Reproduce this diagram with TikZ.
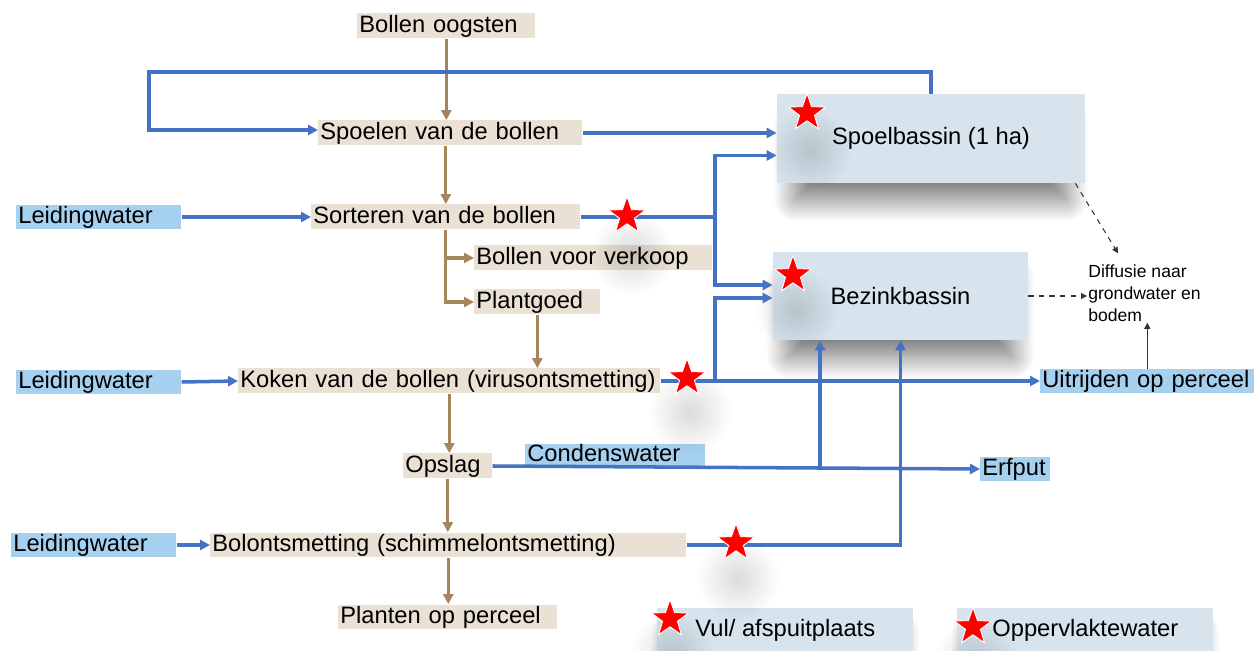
\documentclass[tikz,border=0pt]{standalone}
\usepackage{fontspec}
\setmainfont{Liberation Sans}
\usetikzlibrary{arrows.meta,calc,shapes.geometric,shadows.blur,fadings}
\definecolor{boxtan}{RGB}{234,225,212}
\definecolor{boxblue}{RGB}{166,208,240}
\definecolor{basinfill}{RGB}{215,228,237}
\definecolor{flowblue}{RGB}{68,114,196}
\definecolor{flowbrown}{RGB}{166,133,92}
\tikzfading[name=blobfade, inner color=transparent!86, outer color=transparent!100]

\begin{document}
\begin{tikzpicture}[x=0.02cm, y=-0.02cm,
        proc/.style={fill=boxtan, anchor=west, inner xsep=0.04cm, inner ysep=0pt, minimum height=0.5cm, text height=10pt, text depth=3pt, align=left, text width=#1, font=\fontsize{13.5}{16}\selectfont},
        water/.style={proc=#1, fill=boxblue, minimum height=0.47cm},
        basin/.style={fill=basinfill, inner sep=0pt, font=\fontsize{13.5}{16}\selectfont, blur shadow={shadow xshift=0cm, shadow yshift=-0.5cm, shadow scale=0.88, shadow blur radius=0.5cm, shadow blur steps=30, shadow opacity=55}},
        redstar/.style={star, star points=5, star point ratio=2.5, fill=red, draw=white, line width=0.5pt, minimum size=0.78cm, inner sep=0pt},
        blob/.style={fill=black, path fading=blobfade},
        brline/.style={draw=flowbrown, line width=1.8pt, -{Triangle[length=0.2cm, width=0.2cm]}},
        blline/.style={draw=flowblue, line width=2pt, -{Triangle[length=0.2cm, width=0.2cm]}},
        dashline/.style={draw=black!80, dashed, line width=0.6pt, -{Triangle[length=0.12cm, width=0.12cm]}},
        thinline/.style={draw=black!80, line width=0.6pt, -{Triangle[length=0.12cm, width=0.12cm]}}]
    \useasboundingbox (0,0) rectangle (1255,651);

    \node[basin, minimum width=6.16cm, minimum height=1.78cm] (S) at (931,138.5) {Spoelbassin (1 ha)};
    \node[basin, minimum width=5.10cm, minimum height=1.76cm] (Z) at (900.5,296) {Bezinkbassin};
    \node[basin, minimum width=5.12cm, minimum height=0.9cm, anchor=north west] (V) at (657,608) {Vul/ afspuitplaats};
    \node[basin, minimum width=5.12cm, minimum height=0.9cm, anchor=north west] (W) at (957,608) {Oppervlaktewater};

    \node[proc=3.48cm] (A) at (357,26) {Bollen oogsten};
    \node[proc=5.20cm] (B) at (318,133) {Spoelen van de bollen};
    \node[proc=5.30cm] (C) at (311,217) {Sorteren van de bollen};
    \node[proc=4.68cm] (D) at (474,258) {Bollen voor verkoop};
    \node[proc=2.44cm] (E) at (474,302) {Plantgoed};
    \node[proc=8.36cm] (F) at (238,381) {Koken van de bollen (virusontsmetting)};
    \node[proc=1.70cm] (G) at (403,466) {Opslag};
    \node[proc=9.44cm] (H) at (210,545) {Bolontsmetting (schimmelontsmetting)};
    \node[proc=4.30cm] (I) at (338,617) {Planten op perceel};

    \node[water=3.22cm] (L) at (16,217) {Leidingwater};
    \node[water=3.22cm] (M) at (16,382) {Leidingwater};
    \node[water=3.22cm] (N) at (11,545) {Leidingwater};
    \node[water=3.52cm, minimum height=0.42cm] (K) at (525,455.5) {Condenswater};
    \node[water=1.32cm] (O) at (980,469) {Erfput};
    \node[water=4.20cm] (U) at (1040,381) {Uitrijden op perceel};

    \node[anchor=west, align=left, inner sep=0.02cm, font=\fontsize{10}{12.5}\selectfont] (T) at (1087,293) {Diffusie naar\\grondwater en\\bodem};

    \foreach \x/\y in {810/150, 796/310, 632/254, 690/412, 738/578, 672/654, 975/662}
        \fill[blob] (\x,\y) circle (42);

    \draw[brline] (A.south) -- (A.south |- B.north);
    \draw[brline] (C.north |- B.south) -- (C.north);
    \draw[brline] (C.south) |- (D.west);
    \draw[brline] (C.south) |- (E.west);
    \draw[brline] (E.south) -- (E.south |- F.north);
    \draw[brline] (F.south) -- (F.south |- G.north);
    \draw[brline] (G.south) -- (G.south |- H.north);
    \draw[brline] (H.south) -- (H.south |- I.north);

    \coordinate (X1) at (149,72);
    \coordinate (X2) at (715,217);
    \coordinate (X3) at (715,381);
    \coordinate (X4) at ($(G.east)!0.672!(O.west)$);
    \draw[blline] (S.north) |- (X1) |- ($(B.west)+(0,-3)$);
    \draw[blline] (B.east) -- (B.east -| S.west);
    \draw[blline] (L.east) -- (C.west);
    \draw[blline] (C.east) -- (X2) |- ($(S.west)+(0,17)$);
    \draw[blline] (X2) |- ($(Z.west)+(0,-11)$);
    \draw[blline] (M.east) -- (F.west);
    \draw[blline] (F.east) -- (U.west);
    \draw[blline] (X3) |- ($(Z.west)+(0,2)$);
    \draw[blline] (G.east) -- (O.west);
    \draw[blline] (X4) -- (X4 |- Z.south);
    \draw[blline] (N.east) -- (H.west);
    \draw[blline] (H.east) -| (Z.south);

    \draw[dashline] ($(S.south east)+(-10,0)$) -- ($(T.north west)+(31,-10)$);
    \draw[dashline] (Z.east) -- (Z.east -| T.west);
    \draw[thinline] (U.north) -- (U.north |- T.south);

    \node[redstar] (R1) at (807,113) {};
    \node[redstar] (R2) at (793,275) {};
    \node[redstar] (R3) at (627,216) {};
    \node[redstar] (R4) at (687,378) {};
    \node[redstar] (R5) at (736,543) {};
    \node[redstar] (R6) at (670,619) {};
    \node[redstar] (R7) at (973,627) {};
\end{tikzpicture}
\end{document}
